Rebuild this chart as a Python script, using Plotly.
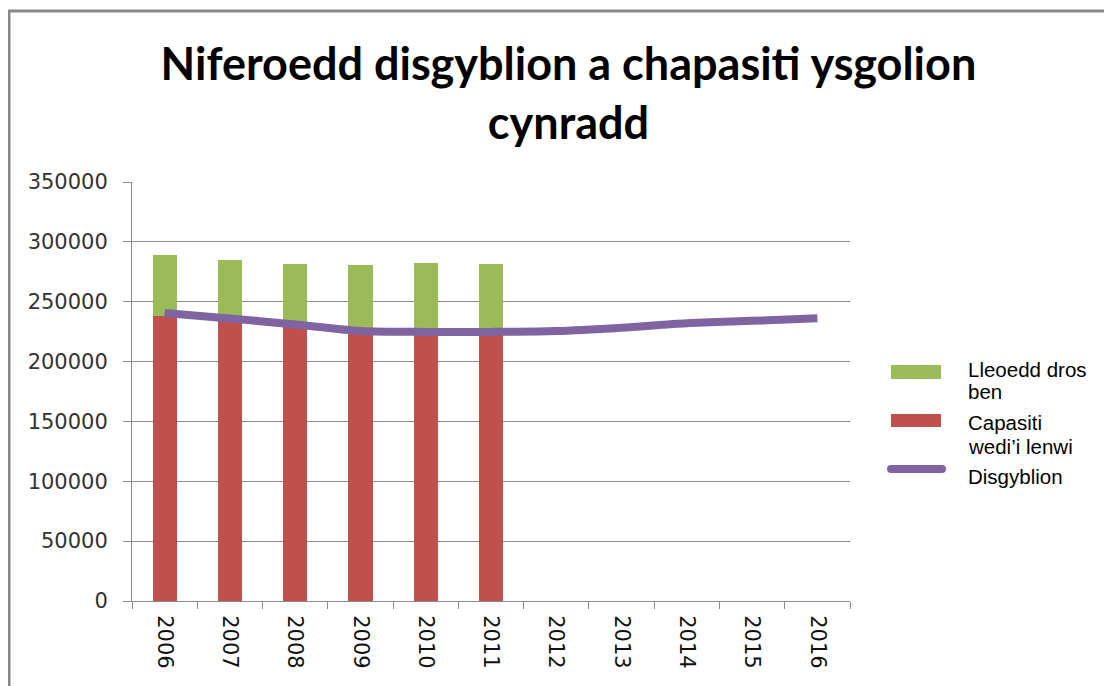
import plotly.graph_objects as go

years = ["2006", "2007", "2008", "2009", "2010", "2011", "2012", "2013", "2014", "2015", "2016"]
capasiti_llenwi = [238000, 234000, 229000, 224000, 224000, 224000, None, None, None, None, None]
lleoedd_dros_ben = [51000, 50600, 52500, 56400, 58600, 57500, None, None, None, None, None]
disgyblion = [240500, 236000, 231000, 225500, 224800, 224800, 225500, 228300, 232000, 234000, 236100]

title_text = "Niferoedd disgyblion a chapasiti ysgolion<br>cynradd"
name_red = "Capasiti wedi’i lenwi"
name_green = "Lleoedd dros ben"
name_line = "Disgyblion"
legend_lines_green = ["Lleoedd dros", "ben"]
legend_lines_red = ["Capasiti", "wedi’i lenwi"]
legend_lines_line = ["Disgyblion"]

C_RED, C_GREEN, C_PURPLE = "#C0504D", "#9BBB59", "#8064A2"

# layout geometry (figure pixels)
W, H = 1112, 686
L, T, PW, PH = 124, 174, 718, 419
OFF = 7  # page offset of the figure in the screenshot


def px(x):
    return (x - OFF - L) / PW


def py(y):
    return (T + PH - (y - OFF)) / PH


fig = go.Figure()
fig.add_trace(go.Bar(x=years, y=capasiti_llenwi, name=name_red,
                     marker=dict(color=C_RED, line=dict(width=0))))
fig.add_trace(go.Bar(x=years, y=lleoedd_dros_ben, name=name_green,
                     marker=dict(color=C_GREEN, line=dict(width=0))))
fig.add_trace(go.Scatter(x=years, y=disgyblion, name=name_line, mode="lines",
                         line=dict(color=C_PURPLE, width=8, shape="spline", smoothing=0.8)))

shapes = [
    dict(type="rect", xref="paper", yref="paper",
         x0=px(8), x1=px(1300), y0=py(900), y1=py(10),
         line=dict(color="#888888", width=3), layer="below"),
    # legend swatches
    dict(type="rect", xref="paper", yref="paper", x0=px(890), x1=px(940), y0=py(378), y1=py(364),
         fillcolor=C_GREEN, line=dict(width=0)),
    dict(type="rect", xref="paper", yref="paper", x0=px(890), x1=px(940), y0=py(426), y1=py(413),
         fillcolor=C_RED, line=dict(width=0)),
    dict(type="line", xref="paper", yref="paper", x0=px(890), x1=px(941), y0=py(468), y1=py(468),
         line=dict(color=C_PURPLE, width=8)),
    dict(type="circle", xref="paper", yref="paper", x0=px(886), x1=px(894), y0=py(472), y1=py(464),
         fillcolor=C_PURPLE, line=dict(width=0)),
    dict(type="circle", xref="paper", yref="paper", x0=px(937), x1=px(945), y0=py(472), y1=py(464),
         fillcolor=C_PURPLE, line=dict(width=0)),
]

ann = []
leg_font = dict(family="Liberation Sans", size=20.5, color="black")
for txt, ymid in zip(legend_lines_green + legend_lines_red + legend_lines_line,
                     [368, 390, 421, 445, 475]):
    ann.append(dict(text=txt, xref="paper", yref="paper", x=px(965), y=py(ymid),
                    xanchor="left", yanchor="middle", showarrow=False, font=leg_font))

fig.update_layout(
    width=W, height=H,
    barmode="stack", bargap=0.63,
    paper_bgcolor="white", plot_bgcolor="white",
    margin=dict(l=L, r=W - L - PW, t=T, b=H - T - PH),
    title=dict(text=title_text, x=0.504, xanchor="center", y=0.895, yanchor="middle",
               font=dict(family="Lato", size=45, color="black", weight="bold")),
    showlegend=False,
    shapes=shapes,
    annotations=ann,
)

fig.update_yaxes(range=[0, 350000], dtick=50000, tickformat="d",
                 showgrid=True, gridcolor="#8C8C8C", gridwidth=1,
                 showline=True, linecolor="#8C8C8C", linewidth=1,
                 ticks="outside", ticklen=8, tickcolor="#8C8C8C", ticklabelstandoff=11,
                 tickfont=dict(family="DejaVu Sans", size=21, color="#333333"),
                 zeroline=False)
fig.update_xaxes(type="category", showline=True, linecolor="#8C8C8C", linewidth=1,
                 ticks="outside", ticklen=7, tickcolor="#8C8C8C", tickson="boundaries",
                 tickangle=90, showgrid=False, ticklabelstandoff=9,
                 tickfont=dict(family="DejaVu Sans", size=21, color="#111111"))

fig.write_html("out.html")
